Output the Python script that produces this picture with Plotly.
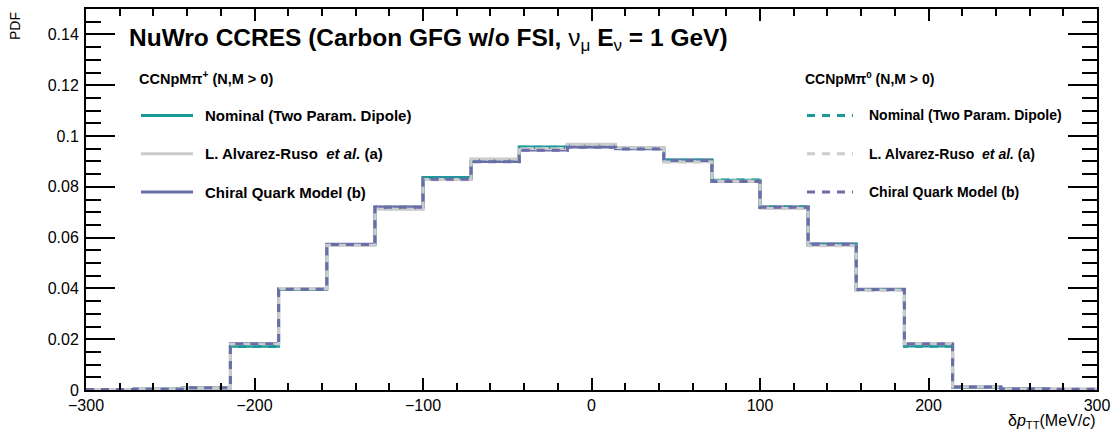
import numpy as np
import plotly.graph_objects as go

# ---------------- data ----------------
x_min, x_max, n_bins = -300.0, 300.0, 21
bin_edges = list(np.linspace(x_min, x_max, n_bins + 1))

pip_nominal = [0.0002, 0.0003, 0.0009, 0.0172, 0.0398, 0.0572, 0.0719, 0.0837, 0.0903, 0.0957, 0.0966,
               0.0951, 0.0906, 0.0826, 0.0719, 0.0574, 0.0396, 0.0173, 0.0011, 0.0003, 0.0002]
pip_alvarez = [0.0002, 0.0003, 0.0009, 0.0181, 0.0400, 0.0570, 0.0712, 0.0829, 0.0909, 0.0951, 0.0968,
               0.0955, 0.0899, 0.0823, 0.0716, 0.0569, 0.0394, 0.0181, 0.0012, 0.0003, 0.0002]
pip_chiral = [0.0002, 0.0003, 0.0009, 0.0183, 0.0398, 0.0574, 0.0720, 0.0831, 0.0900, 0.0945, 0.0957,
              0.0950, 0.0905, 0.0822, 0.0720, 0.0575, 0.0397, 0.0182, 0.0012, 0.0004, 0.0003]
pi0_nominal = [0.0002, 0.0003, 0.0010, 0.0171, 0.0397, 0.0573, 0.0718, 0.0836, 0.0904, 0.0956, 0.0965,
               0.0952, 0.0905, 0.0827, 0.0720, 0.0573, 0.0395, 0.0172, 0.0012, 0.0003, 0.0002]
pi0_alvarez = [0.0002, 0.0003, 0.0009, 0.0182, 0.0399, 0.0571, 0.0713, 0.0828, 0.0908, 0.0950, 0.0967,
               0.0954, 0.0898, 0.0822, 0.0715, 0.0568, 0.0393, 0.0182, 0.0013, 0.0003, 0.0002]
pi0_chiral = [0.0002, 0.0003, 0.0009, 0.0182, 0.0397, 0.0573, 0.0719, 0.0830, 0.0899, 0.0944, 0.0956,
              0.0949, 0.0904, 0.0821, 0.0719, 0.0574, 0.0396, 0.0181, 0.0012, 0.0004, 0.0003]

model_labels = ["Nominal (Two Param. Dipole)",
                "L. Alvarez-Ruso\u00a0\u00a0<i>et al.</i> (a)",
                "Chiral Quark Model (b)"]
header_pip = "CCNpM\u03c0<sup>+</sup> (N,M > 0)"
header_pi0 = "CCNpM\u03c0<sup>0</sup> (N,M > 0)"
title_text = ("NuWro CCRES (Carbon GFG w/o FSI, <span style='font-weight:normal'>\u03bd<sub>\u03bc</sub></span>"
              " E<sub><span style='font-weight:normal'>\u03bd</span></sub> = 1 GeV)")

# ---------------- style ----------------
TEAL = "#1a9a98"
GREY = "#cccccc"
PURPLE = "#6b6da8"
colors = [TEAL, GREY, PURPLE]
FONT = "Liberation Sans, Arial, Helvetica, sans-serif"
DASH = "8px,7px"
LW = 3

W, H = 1119, 435
ML, MR, MT, MB = 86, 22, 7, 45
PW, PH = W - ML - MR, H - MT - MB


def px(xp):
    return (xp - ML) / PW


def py(yp):
    return (H - MB - yp) / PH


def step_xy(vals):
    return bin_edges, list(vals) + [vals[-1]]


fig = go.Figure()

solid_order = [(pip_nominal, TEAL), (pip_chiral, PURPLE), (pip_alvarez, GREY)]
dash_order = [(pi0_nominal, TEAL), (pi0_alvarez, GREY), (pi0_chiral, PURPLE)]

for vals, col in solid_order:
    xs, ys = step_xy(vals)
    fig.add_trace(go.Scatter(x=xs, y=ys, mode="lines", line=dict(shape="hv", color=col, width=LW),
                             showlegend=False, hoverinfo="skip"))
for vals, col in dash_order:
    xs, ys = step_xy(vals)
    fig.add_trace(go.Scatter(x=xs, y=ys, mode="lines",
                             line=dict(shape="hv", color=col, width=LW, dash=DASH),
                             showlegend=False, hoverinfo="skip"))

shapes = []
annotations = []

# title
annotations.append(dict(xref="paper", yref="paper", x=px(127), y=py(38), xanchor="left", yanchor="middle",
                        text="<b>" + title_text + "</b>", showarrow=False,
                        font=dict(family=FONT, size=24.5, color="black")))

# legends
leg_rows = [114, 152.5, 191]
for (hx, lx0, lx1, tx, hdr, dash, fsize, hsize) in [
        (137, 141, 193, 203, header_pip, None, 15, 14.5),
        (803, 807, 853, 867, header_pi0, DASH, 14, 14)]:
    annotations.append(dict(xref="paper", yref="paper", x=px(hx), y=py(76), xanchor="left", yanchor="middle",
                            text="<b>" + hdr + "</b>", showarrow=False,
                            font=dict(family=FONT, size=hsize, color="black")))
    for row, col, lab in zip(leg_rows, colors, model_labels):
        line = dict(color=col, width=LW)
        if dash:
            line["dash"] = dash
        shapes.append(dict(type="line", xref="paper", yref="paper", x0=px(lx0), x1=px(lx1),
                           y0=py(row), y1=py(row), line=line))
        annotations.append(dict(xref="paper", yref="paper", x=px(tx), y=py(row), xanchor="left",
                                yanchor="middle", text="<b>" + lab + "</b>", showarrow=False,
                                font=dict(family=FONT, size=fsize, color="black")))

# axis titles
annotations.append(dict(xref="paper", yref="paper", x=px(1097), y=py(422), xanchor="right", yanchor="middle",
                        text="\u03b4<i>p</i><sub>TT</sub>(MeV/<i>c</i>)", showarrow=False,
                        font=dict(family=FONT, size=16, color="black")))
annotations.append(dict(xref="paper", yref="paper", x=px(15), y=py(8), xanchor="center", yanchor="top",
                        text="PDF", textangle=-90, showarrow=False,
                        font=dict(family=FONT, size=14, color="black")))

fig.update_layout(
    width=W, height=H,
    margin=dict(l=ML, r=MR, t=MT, b=MB, pad=0),
    paper_bgcolor="white", plot_bgcolor="white",
    font=dict(family=FONT, size=16, color="black"),
    shapes=shapes, annotations=annotations,
    showlegend=False,
)
fig.update_xaxes(range=[x_min, x_max], dtick=100, tick0=0, ticks="inside", ticklen=12, tickwidth=1.5,
                 tickcolor="black", showline=True, linecolor="black", linewidth=2, mirror="allticks",
                 showgrid=False, zeroline=False,
                 minor=dict(dtick=20, tick0=0, ticks="inside", ticklen=7, tickwidth=1.5, tickcolor="black"),
                 tickfont=dict(family=FONT, size=16))
fig.update_yaxes(range=[0, 0.15], dtick=0.02, tick0=0, ticks="inside", ticklen=29, tickwidth=1.5,
                 tickcolor="black", showline=True, linecolor="black", linewidth=2, mirror="allticks",
                 showgrid=False, zeroline=False, ticklabelstandoff=2,
                 minor=dict(dtick=0.005, tick0=0, ticks="inside", ticklen=15, tickwidth=1.5, tickcolor="black"),
                 tickfont=dict(family=FONT, size=16))

fig.write_html("out.html")
